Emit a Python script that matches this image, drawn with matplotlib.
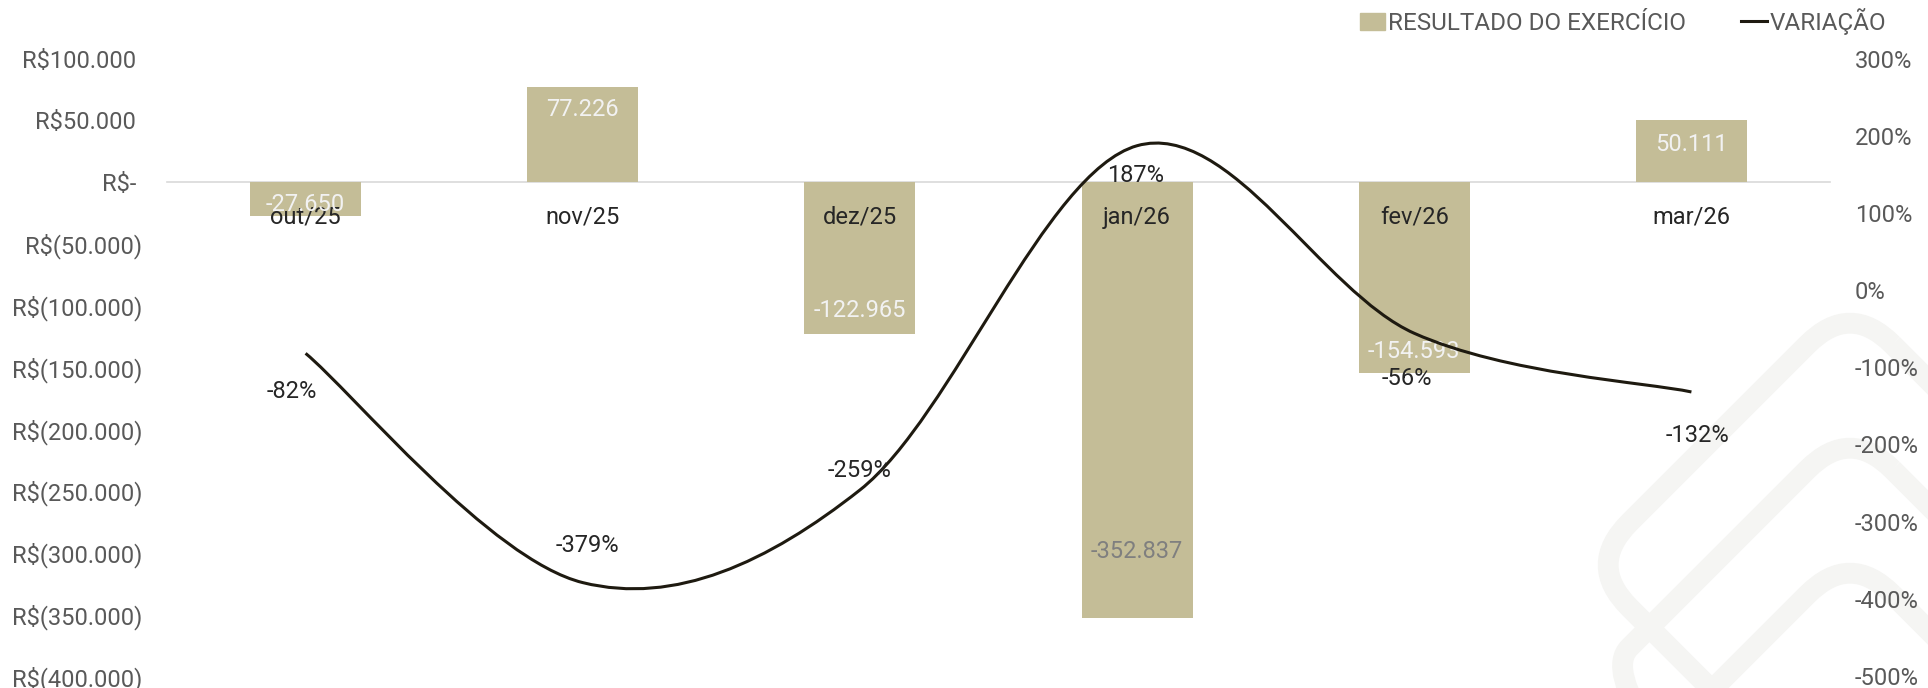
import numpy as np
import matplotlib
matplotlib.use("Agg")
from matplotlib import pyplot as plt, patches
from matplotlib.path import Path
from matplotlib.lines import Line2D
from matplotlib.transforms import Affine2D
from matplotlib.ticker import FuncFormatter, MultipleLocator

# dados
meses = ["out/25", "nov/25", "dez/25", "jan/26", "fev/26", "mar/26"]
resultado = [-27650, 77226, -122965, -352837, -154593, 50111]
variacao = [-0.82, -3.79, -2.59, 1.87, -0.56, -1.32]

plt.rcParams['font.family'] = ['Roboto', 'DejaVu Sans']
FS = 17
COR_BARRA = '#c4bd97'
COR_LINHA = '#1e1a10'
COR_EIXO = '#595959'
COR_TEXTO = '#262626'

# deslocamento dos rotulos (px): barras para dentro, linha (dx, dy)
desl_barras = [12, 23, 23, 66, 21, 24]
desl_linha = [(-14, -38), (5, 37), (0, 19), (-2, -30), (-7, -45), (6, -44)]
cor_rot_barras = ['#f2f2f2', '#f2f2f2', '#f2f2f2', '#7f7f7f', '#f2f2f2', '#f2f2f2']


def fmt_reais(v, pos=None):
    if abs(v) < 1:
        return "R$- "
    s = f"{abs(v):,.0f}".replace(",", ".")
    if v < 0:
        return f"R$({s})"
    return f"R${s} "


def fmt_pct(v, pos=None):
    return f"{v:.0%}"


def curva_suave(xs, ys):
    # bezier no estilo "linha suavizada" do excel
    pts = np.column_stack([xs, ys]).astype(float)
    n = len(pts)
    verts, codes = [pts[0]], [Path.MOVETO]
    for i in range(n - 1):
        p0 = pts[max(i - 1, 0)]
        p1 = pts[i]
        p2 = pts[i + 1]
        p3 = pts[min(i + 2, n - 1)]
        verts += [p1 + (p2 - p0) / 6, p2 - (p3 - p1) / 6, p2]
        codes += [Path.CURVE4] * 3
    return Path(verts, codes)


fig = plt.figure(figsize=(19.28, 6.88), dpi=100)
fig.patch.set_facecolor('white')

# marca d'agua no fundo
bg = fig.add_axes([0, 0, 1, 1])
bg.set_xlim(0, 1928)
bg.set_ylim(688, 0)
bg.axis('off')
for cy in (565, 690, 815):
    cx, s, r = 1850, 372, 60
    caixa = patches.FancyBboxPatch((cx - s / 2, cy - s / 2), s, s,
                                   boxstyle=f"round,pad=0,rounding_size={r}",
                                   fill=False, ec='#f5f5f3', lw=15,
                                   transform=Affine2D().rotate_deg_around(cx, cy, 45) + bg.transData)
    bg.add_patch(caixa)

ax = fig.add_axes([167 / 1928, 1 - 676 / 688, (1830 - 167) / 1928, (676 - 58.5) / 688])
ax.set_facecolor('none')
ax.set_axisbelow(False)
x = np.arange(len(meses))
barras = ax.bar(x, resultado, width=0.4, color=COR_BARRA, zorder=2)
ax.set_xlim(-0.5, len(meses) - 0.5)
ax.set_ylim(-400000, 100000)
ax.yaxis.set_major_locator(MultipleLocator(50000))
ax.yaxis.set_major_formatter(FuncFormatter(fmt_reais))
for sp in ['top', 'right', 'left']:
    ax.spines[sp].set_visible(False)
ax.spines['bottom'].set_position(('data', 0))
ax.spines['bottom'].set_color('#d9d9d9')
ax.spines['bottom'].set_linewidth(1.2)
ax.spines['bottom'].set_zorder(1)
ax.set_xticks(x, meses)
ax.tick_params(axis='x', length=0, pad=17, labelsize=FS, labelcolor=COR_TEXTO)
ax.tick_params(axis='y', length=0, pad=18, labelsize=FS, labelcolor=COR_EIXO)

for i, (v, d) in enumerate(zip(resultado, desl_barras)):
    sinal = -1 if v > 0 else 1
    ax.annotate(f"{v:,.0f}".replace(",", "."), (x[i], v),
                xytext=(0, sinal * d * 0.72), textcoords='offset points',
                ha='center', va='center', fontsize=FS, color=cor_rot_barras[i], zorder=3)

ax2 = ax.twinx()
ax2.set_ylim(-5, 3)
ax2.yaxis.set_major_locator(MultipleLocator(1))
ax2.yaxis.set_major_formatter(FuncFormatter(fmt_pct))
for sp in ax2.spines.values():
    sp.set_visible(False)
ax2.tick_params(axis='y', length=0, pad=18, labelsize=FS, labelcolor=COR_EIXO)

ax2.add_patch(patches.PathPatch(curva_suave(x, variacao), fill=False,
                                ec=COR_LINHA, lw=2.2, capstyle='butt'))
for i, (v, (dx, dy)) in enumerate(zip(variacao, desl_linha)):
    ax2.annotate(f"{v:.0%}", (x[i], v), xytext=(dx * 0.72, dy * 0.72),
                 textcoords='offset points', ha='center', va='center',
                 fontsize=FS, color=COR_TEXTO)

handles = [patches.Patch(color=COR_BARRA), Line2D([], [], color=COR_LINHA, lw=2.2)]
fig.legend(handles, ["RESULTADO DO EXERCÍCIO", "VARIAÇÃO"], loc='upper right',
           bbox_to_anchor=(1886 / 1928, 1 - 8 / 688), ncol=2, frameon=False,
           fontsize=17.5, labelcolor=COR_EIXO, handlelength=1.05, handletextpad=0.1,
           columnspacing=2.3, borderpad=0, borderaxespad=0)

fig.savefig('out.png', dpi=100)
